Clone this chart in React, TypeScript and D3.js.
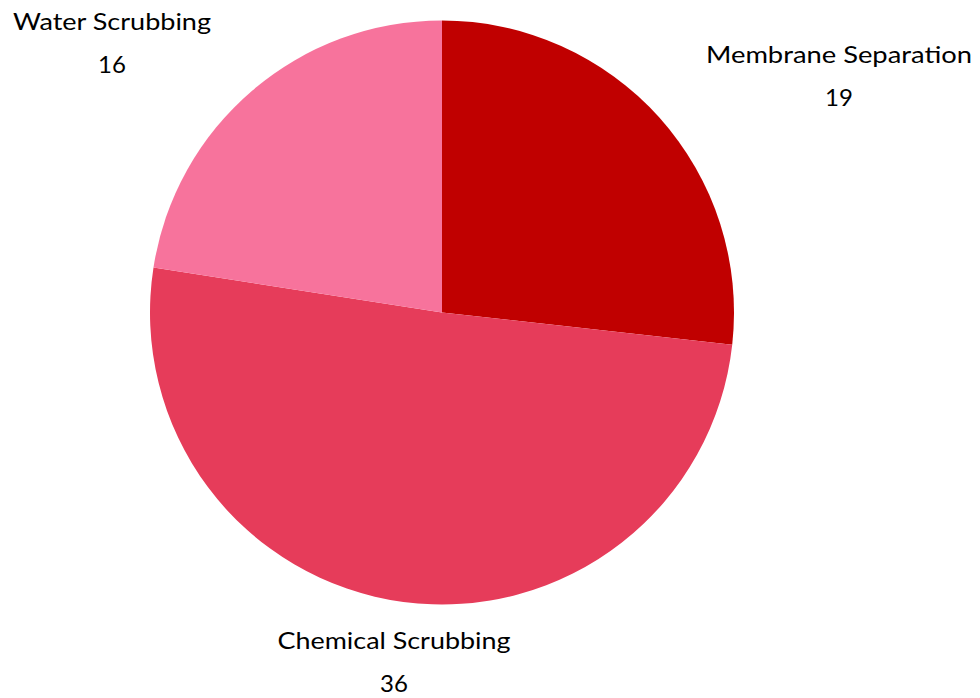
import React from "react";
import * as d3 from "d3";

const categories = ["Membrane Separation", "Chemical Scrubbing", "Water Scrubbing"];
const values = [19, 36, 16];
const colors = ["#C00000", "#E63C5A", "#F7739C"];
// label anchor positions (center x, first line y)
const labelPos = [
  { x: 839, y: 54, w: 266 },
  { x: 394, y: 640, w: 233 },
  { x: 112, y: 21, w: 198 },
];

export default function App() {
  const width = 980;
  const height = 698;
  const cx = 442;
  const cy = 312.5;
  const r = 292;
  const pie = d3.pie<number>().sort(null).value((d) => d);
  const arcs = pie(values);
  const arc = d3.arc<d3.PieArcDatum<number>>().innerRadius(0).outerRadius(r);
  return (
    <svg
      width={width}
      height={height}
      style={{ position: "absolute", left: 0, top: 0, background: "#fff" }}
    >
      <g transform={`translate(${cx},${cy})`}>
        {arcs.map((a, i) => (
          <path key={i} d={arc(a) || ""} fill={colors[i]} />
        ))}
      </g>
      {categories.map((c, i) => (
        <g key={c} fontFamily="Lato, 'Open Sans', sans-serif" fill="#000" textAnchor="middle">
          <text x={labelPos[i].x} y={labelPos[i].y} fontSize={23} dominantBaseline="central" textLength={labelPos[i].w} lengthAdjust="spacingAndGlyphs">
            {c}
          </text>
          <text x={labelPos[i].x} y={labelPos[i].y + 42} fontSize={24} dominantBaseline="central">
            {values[i]}
          </text>
        </g>
      ))}
    </svg>
  );
}
